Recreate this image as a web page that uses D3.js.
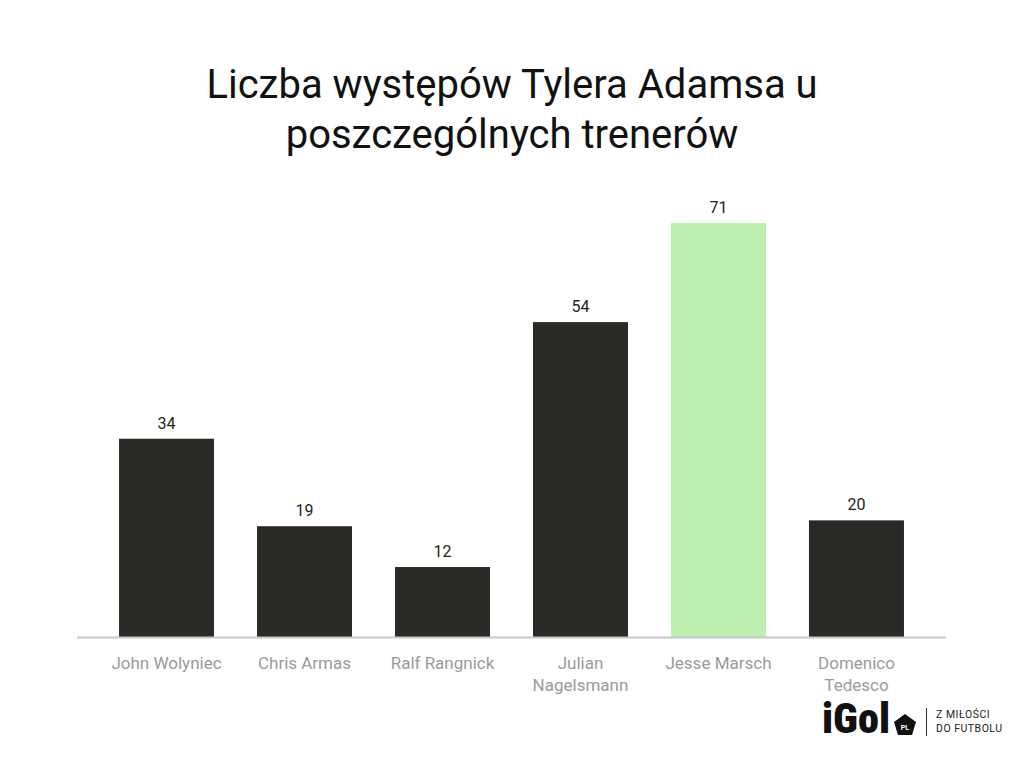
<!DOCTYPE html>
<html><head><meta charset="utf-8">
<script src="https://cdn.jsdelivr.net/npm/d3@7"></script>
<style>body{margin:0;background:#fff;}svg{display:block;font-family:Roboto,sans-serif;}</style>
</head><body><svg id="c" width="1024" height="768"></svg>
<script>
const categories = [["John Wolyniec"],["Chris Armas"],["Ralf Rangnick"],["Julian","Nagelsmann"],["Jesse Marsch"],["Domenico","Tedesco"]];
const values = [34, 19, 12, 54, 71, 20];
const highlight = [false, false, false, false, true, false];
const titleLines = ["Liczba występów Tylera Adamsa u", "poszczególnych trenerów"];

const svg = d3.select("#c");
const names = categories.map(c => c.join(" "));
const x = d3.scaleBand().domain(names).range([97.5, 925.5]).paddingInner(0.3116).paddingOuter(0.156);
const y = d3.scaleLinear().domain([0, 71]).range([637, 223]);

svg.append("g").selectAll("text").data(titleLines).join("text")
  .attr("x", 512).attr("y", (d,i) => 98 + i*50).attr("text-anchor","middle")
  .attr("font-size", 40).attr("fill", "#111").text(d => d);

svg.append("g").selectAll("rect").data(values).join("rect")
  .attr("x", (d,i) => x(names[i])).attr("width", x.bandwidth())
  .attr("y", d => y(d)).attr("height", d => y(0) - y(d))
  .attr("fill", (d,i) => highlight[i] ? "#bdeeb2" : "#272a25");

svg.append("g").selectAll("text").data(values).join("text")
  .attr("x", (d,i) => x(names[i]) + x.bandwidth()/2).attr("y", d => y(d) - 10)
  .attr("text-anchor","middle").attr("font-size", 16).attr("fill", "#222").text(d => d);

svg.append("line").attr("x1", 77).attr("x2", 946).attr("y1", 637.5).attr("y2", 637.5)
  .attr("stroke", "#c8c8c8").attr("stroke-width", 2);

const lab = svg.append("g").selectAll("text").data(categories).join("text")
  .attr("x", (d,i) => x(names[i]) + x.bandwidth()/2).attr("y", 669)
  .attr("text-anchor","middle").attr("font-size", 17).attr("fill", "#9a9a9a");
lab.selectAll("tspan").data(d => d).join("tspan")
  .attr("x", function(){ return this.parentNode.getAttribute("x"); })
  .attr("dy", (d,i) => i ? 22 : 0).text(d => d);

// logo
const lg = svg.append("g");
lg.append("text").attr("x", 822).attr("y", 733).attr("font-size", 42).attr("font-weight", 900)
  .attr("font-family", "Roboto Condensed, Roboto, sans-serif").attr("fill","#111")
  .attr("textLength", 68).attr("lengthAdjust","spacingAndGlyphs").text("iGol");
lg.append("path").attr("d","M905,714 L916,722 L912,735 L898,735 L894,722 Z").attr("fill","#111");
lg.append("text").attr("x", 905).attr("y", 730).attr("font-size", 7).attr("font-weight",700)
  .attr("text-anchor","middle").attr("fill","#fff").text("PL");
lg.append("line").attr("x1", 926.5).attr("x2", 926.5).attr("y1", 708).attr("y2", 736).attr("stroke","#333").attr("stroke-width",1);
lg.append("text").attr("x", 936).attr("y", 718).attr("font-size", 10.5).attr("fill","#222").attr("letter-spacing",0.5).text("Z MIŁOŚCI");
lg.append("text").attr("x", 936).attr("y", 732).attr("font-size", 10.5).attr("fill","#222").attr("letter-spacing",0.5).text("DO FUTBOLU");
</script></body></html>
